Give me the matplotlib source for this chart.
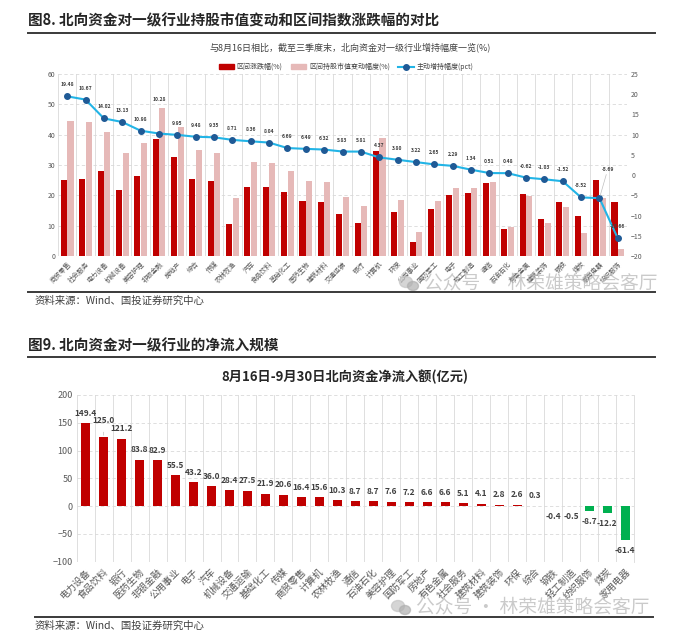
import matplotlib
matplotlib.use('Agg')
import matplotlib.pyplot as plt
import numpy as np
from matplotlib.lines import Line2D
from matplotlib.patches import Patch, Ellipse

plt.rcParams['font.family'] = ['Noto Sans CJK SC', 'DejaVu Sans']

# ---------------- data: figure 8 ----------------
top_cats = ['商贸零售', '社会服务', '电力设备', '机械设备', '美容护理', '非银金融', '房地产', '综合',
            '传媒', '农林牧渔', '汽车', '食品饮料', '基础化工', '医药生物', '建筑材料', '交通运输',
            '银行', '计算机', '环保', '公用事业', '国防军工', '电子', '轻工制造', '通信',
            '石油石化', '有色金属', '建筑装饰', '钢铁', '煤炭', '家用电器', '纺织服饰']
index_chg = [25.1, 25.4, 28.0, 21.6, 26.5, 38.5, 32.7, 25.4, 24.7, 10.6, 22.6, 22.7, 21.1, 18.0, 17.9,
             13.8, 10.8, 34.5, 14.4, 4.7, 15.5, 20.1, 20.9, 24.0, 9.0, 20.5, 12.2, 17.9, 13.2, 24.9, 17.9]
mv_chg = [44.5, 44.3, 40.9, 33.9, 37.2, 48.7, 42.5, 35.0, 33.9, 19.2, 31.0, 30.8, 27.9, 24.7, 24.5,
          19.6, 16.5, 38.9, 18.3, 7.9, 18.2, 22.3, 22.3, 24.5, 9.5, 19.8, 11.0, 16.3, 7.7, 19.2, 2.2]
active_add = [19.48, 18.67, 14.02, 13.13, 10.98, 10.28, 9.95, 9.48, 9.35, 8.71, 8.36, 8.04, 6.69, 6.49,
              6.32, 5.83, 5.81, 4.37, 3.80, 3.22, 2.65, 2.29, 1.34, 0.51, 0.48, -0.62, -1.03, -1.52,
              -5.52, -5.69, -15.66]

# ---------------- data: figure 9 ----------------
bot_cats = ['电力设备', '食品饮料', '银行', '医药生物', '非银金融', '公用事业', '电子', '汽车',
            '机械设备', '交通运输', '基础化工', '传媒', '商贸零售', '计算机', '农林牧渔', '通信',
            '石油石化', '美容护理', '国防军工', '房地产', '有色金属', '社会服务', '建筑材料',
            '建筑装饰', '环保', '综合', '钢铁', '轻工制造', '纺织服饰', '煤炭', '家用电器']
net_flow = [149.4, 125.0, 121.2, 83.8, 82.9, 55.5, 43.2, 36.0, 28.4, 27.5, 21.9, 20.6, 16.4, 15.6,
            10.3, 8.7, 8.7, 7.6, 7.2, 6.6, 6.6, 5.1, 4.1, 2.8, 2.6, 0.3, -0.4, -0.5, -8.7, -12.2, -61.4]

W, H = 700, 640
fig = plt.figure(figsize=(W / 100, H / 100), dpi=100)
fig.patch.set_facecolor('white')


def fx(px):
    return px / W


def fy(py):
    return 1 - py / H


def hline(y, x0=28, x1=655, lw=1.4):
    fig.add_artist(Line2D([fx(x0), fx(x1)], [fy(y), fy(y)], color='#3a3a3a', lw=lw))


def watermark(x, y):
    # simple chat-bubble icon + text
    fig.add_artist(Ellipse((fx(x + 6), fy(y - 1)), fx(13), 11 / H, color='#c4c4c4', alpha=0.7))
    fig.add_artist(Ellipse((fx(x + 13), fy(y + 3)), fx(11), 9 / H, color='#b0b0b0', alpha=0.7))
    fig.text(fx(x + 24), fy(y), '公众号 · 林荣雄策略会客厅', fontsize=13.5, color='#a8a8a8', alpha=0.6,
             ha='left', va='center')


grid_c = '#d9d9d9'
txt_c = '#404040'

# ---------- Figure 8 header ----------
fig.text(fx(28), fy(20), '图8. 北向资金对一级行业持股市值变动和区间指数涨跌幅的对比', fontsize=10.5,
         fontweight='bold', color='#262626', ha='left', va='center')
hline(33)
fig.text(fx(350), fy(47), '与8月16日相比，截至三季度末，北向资金对一级行业增持幅度一览(%)', fontsize=6.5,
         color=txt_c, ha='center', va='center')

ax1 = fig.add_axes([fx(58), fy(256), fx(627 - 58), (256 - 74) / H])
x = np.arange(len(top_cats))
ax1.bar(x - 0.18, index_chg, 0.33, color='#c00000', zorder=2)
ax1.bar(x + 0.18, mv_chg, 0.33, color='#e6b9b8', zorder=2)
ax1.set_xlim(-0.5, len(top_cats) - 0.5)
ax1.set_ylim(0, 60)
ax1.set_yticks(np.arange(0, 61, 10))
ax1.set_xticks(x)
ax1.set_xticklabels(top_cats, rotation=45, ha='right', rotation_mode='anchor', fontsize=4.8, color='#595959')
ax1.set_xticks(np.arange(-0.5, len(top_cats), 1), minor=True)
ax1.tick_params(axis='both', which='both', length=0, labelsize=5, labelcolor='#595959', pad=2)
ax1.tick_params(axis='x', which='major', labelsize=4.8, pad=3)
ax1.grid(axis='x', which='minor', color=grid_c, lw=0.6)
ax1.grid(axis='y', which='major', color=grid_c, lw=0.6, ls=(0, (4, 3)))
ax1.set_axisbelow(True)
for s in ax1.spines.values():
    s.set_visible(False)

ax2 = ax1.twinx()
ax2.plot(x, active_add, color='#22b4e6', lw=1.5, marker='o', ms=4, mfc='#1f5a96', mec='#1f5a96', zorder=3)
ax2.set_ylim(-20, 25)
ax2.set_yticks(np.arange(-20, 26, 5))
ax2.tick_params(axis='y', length=0, labelsize=5, labelcolor='#595959', pad=3)
for s in ax2.spines.values():
    s.set_visible(False)

for i, v in enumerate(active_add):
    if i == 5:
        off = (0, 23)
        arrow = None
    elif i == 29:
        off = (6, 19)
        arrow = dict(arrowstyle='-', color='#bfbfbf', lw=0.5, shrinkA=0, shrinkB=2)
    else:
        off = (0, 6.5)
        arrow = None
    ax2.annotate(f'{v:.2f}', (i, v), xytext=off, textcoords='offset points', ha='center', va='bottom',
                 fontsize=3.6, fontweight='bold', color=txt_c, arrowprops=arrow, zorder=4)

handles = [Patch(color='#c00000'), Patch(color='#e6b9b8'),
           Line2D([0], [0], color='#22b4e6', lw=1.5, marker='o', ms=4, mfc='#1f5a96', mec='#1f5a96')]
labels = ['区间涨跌幅(%)', '区间持股市值变动幅度(%)', '主动增持幅度(pct)']
ax1.legend(handles, labels, loc='center', bbox_to_anchor=((346 - 58) / 569, (256 - 67) / 182), ncol=3,
           frameon=False, fontsize=5, handlelength=2.2, handleheight=0.8, columnspacing=1.2,
           handletextpad=0.4, labelcolor=txt_c)

hline(292)
fig.text(fx(35), fy(301), '资料来源：Wind、国投证券研究中心', fontsize=7.5, style='italic', color=txt_c,
         ha='left', va='center')
watermark(400, 283)

# ---------- Figure 9 ----------
fig.text(fx(28), fy(345), '图9. 北向资金对一级行业的净流入规模', fontsize=10.5, fontweight='bold',
         color='#262626', ha='left', va='center')
hline(357)
fig.text(fx(345), fy(377), '8月16日-9月30日北向资金净流入额(亿元)', fontsize=9.5, fontweight='bold',
         color='#262626', ha='center', va='center')

ax3 = fig.add_axes([fx(76.7), fy(561.7), fx(634 - 76.7), (561.7 - 395) / H])
xb = np.arange(len(bot_cats))
cols = ['#c00000' if v >= 0 else '#00b050' for v in net_flow]
ax3.bar(xb, net_flow, 0.5, color=cols, zorder=2)
ax3.set_xlim(-0.5, len(bot_cats) - 0.5)
ax3.set_ylim(-100, 200)
ax3.set_yticks(np.arange(-100, 201, 50))
ax3.set_xticks(xb)
ax3.set_xticklabels(bot_cats, rotation=45, ha='right', rotation_mode='anchor', fontsize=6.8, color='#595959')
ax3.set_xticks(np.arange(-0.5, len(bot_cats), 1), minor=True)
ax3.tick_params(axis='both', which='both', length=0, labelsize=6.5, labelcolor='#595959', pad=3)
ax3.tick_params(axis='x', which='major', labelsize=6.8, labelcolor='#595959', pad=4)
ax3.grid(axis='x', which='minor', color=grid_c, lw=0.6)
ax3.grid(axis='y', which='major', color=grid_c, lw=0.6, ls=(0, (4, 3)))
ax3.set_axisbelow(True)
for s in ax3.spines.values():
    s.set_visible(False)
ax3.spines['right'].set_visible(True)
ax3.spines['right'].set_color(grid_c)
ax3.spines['right'].set_linewidth(0.6)

for i, v in enumerate(net_flow):
    arrow = None
    if v >= 0:
        off = (0, 7.2)
        if i == 1:
            off = (0, 11.5)
            arrow = dict(arrowstyle='-', color='#bfbfbf', lw=0.5, shrinkA=3, shrinkB=1)
    else:
        off = (0, -7.5)
    ax3.annotate(f'{v:.1f}', (i, v), xytext=off, textcoords='offset points', ha='center',
                 va='center', fontsize=6, fontweight='bold', color=txt_c, arrowprops=arrow)

hline(617, x0=35, x1=653)
fig.text(fx(35), fy(626), '资料来源：Wind、国投证券研究中心', fontsize=7.5, style='italic', color=txt_c,
         ha='left', va='center')
watermark(392, 607)

fig.savefig('out.png', dpi=100, facecolor='white')
